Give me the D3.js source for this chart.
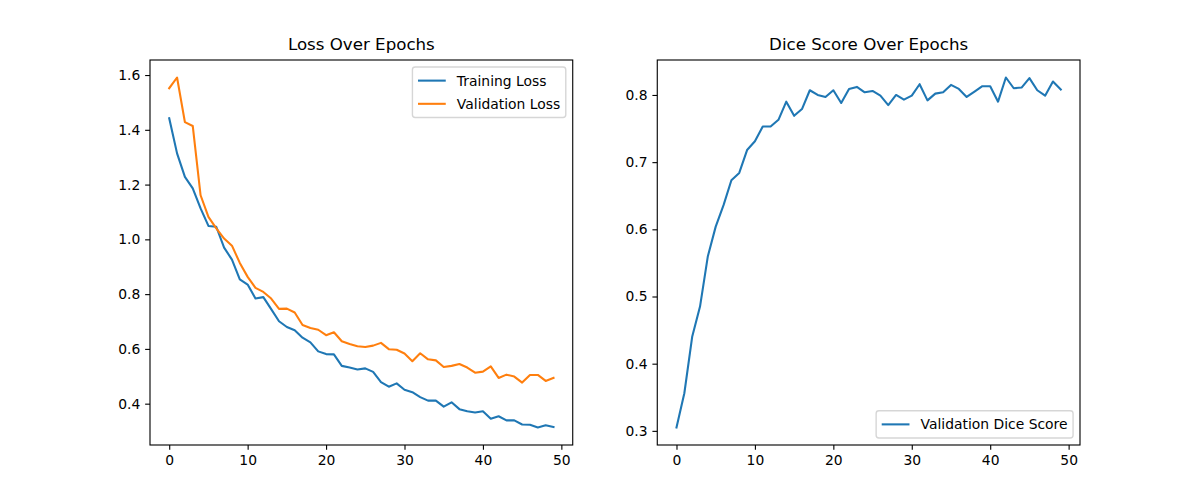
<!DOCTYPE html>
<html>
<head>
<meta charset="utf-8">
<script src="https://cdn.jsdelivr.net/npm/d3@7"></script>
<style>
  html, body { margin: 0; padding: 0; background: #fff; }
  svg { display: block; font-family: "DejaVu Sans", sans-serif; }
</style>
</head>
<body>
<svg id="chart" width="1200" height="500"></svg>
<script>
const epochs = d3.range(50);
const trainingLoss = [1.442, 1.314, 1.228, 1.186, 1.113, 1.049, 1.046, 0.970, 0.926, 0.854,
  0.835, 0.784, 0.789, 0.745, 0.701, 0.680, 0.668, 0.641, 0.624, 0.591,
  0.581, 0.580, 0.538, 0.532, 0.525, 0.529, 0.516, 0.479, 0.462, 0.474,
  0.451, 0.442, 0.424, 0.411, 0.411, 0.389, 0.405, 0.380, 0.372, 0.368,
  0.372, 0.345, 0.354, 0.339, 0.339, 0.324, 0.323, 0.313, 0.321, 0.315];
const validationLoss = [1.552, 1.591, 1.428, 1.414, 1.161, 1.082, 1.040, 1.003, 0.977, 0.914,
  0.863, 0.823, 0.808, 0.784, 0.746, 0.747, 0.733, 0.687, 0.676, 0.670,
  0.650, 0.661, 0.628, 0.618, 0.610, 0.607, 0.612, 0.622, 0.599, 0.597,
  0.583, 0.555, 0.584, 0.562, 0.558, 0.534, 0.538, 0.545, 0.532, 0.513,
  0.517, 0.536, 0.494, 0.506, 0.499, 0.477, 0.505, 0.505, 0.483, 0.494];
const diceScore = [0.305, 0.356, 0.440, 0.485, 0.560, 0.604, 0.636, 0.673, 0.684, 0.718,
  0.731, 0.753, 0.753, 0.763, 0.790, 0.769, 0.779, 0.807, 0.800, 0.797,
  0.807, 0.788, 0.809, 0.812, 0.804, 0.806, 0.799, 0.785, 0.800, 0.793,
  0.799, 0.816, 0.792, 0.802, 0.804, 0.815, 0.809, 0.797, 0.805, 0.813,
  0.813, 0.790, 0.826, 0.810, 0.811, 0.825, 0.807, 0.799, 0.820, 0.808];
const epochTicks = [0, 10, 20, 30, 40, 50];
const lossTicks = [0.4, 0.6, 0.8, 1.0, 1.2, 1.4, 1.6];
const diceTicks = [0.3, 0.4, 0.5, 0.6, 0.7, 0.8];

const svg = d3.select("#chart");
const pt = 100 / 72;
const axTop = 60, axBottom = 445;
const axW = 930 / 2.2;
const panels = [
  { left: 150, title: "Loss Over Epochs", ticks: lossTicks,
    series: [
      { name: "Training Loss", values: trainingLoss, color: "#1f77b4" },
      { name: "Validation Loss", values: validationLoss, color: "#ff7f0e" }
    ], legend: "upper" },
  { left: 150 + axW * 1.2, title: "Dice Score Over Epochs", ticks: diceTicks,
    series: [
      { name: "Validation Dice Score", values: diceScore, color: "#1f77b4" }
    ], legend: "lower" }
];

function pad(ext) {
  const r = ext[1] - ext[0];
  return [ext[0] - 0.05 * r, ext[1] + 0.05 * r];
}

panels.forEach(p => {
  const g = svg.append("g");
  const xExt = pad(d3.extent(epochs));
  const allV = p.series.flatMap(s => s.values);
  const yExt = pad(d3.extent(allV));
  const x = d3.scaleLinear().domain(xExt).range([p.left, p.left + axW]);
  const y = d3.scaleLinear().domain(yExt).range([axBottom, axTop]);

  const line = d3.line().x((d, i) => x(epochs[i])).y(d => y(d));
  p.series.forEach(s => {
    g.append("path").datum(s.values)
      .attr("d", line).attr("fill", "none")
      .attr("stroke", s.color).attr("stroke-width", 1.5 * pt)
      .attr("stroke-linejoin", "round").attr("stroke-linecap", "square");
  });

  const xAxis = d3.axisBottom(x).tickValues(epochTicks).tickFormat(d3.format("d"))
    .tickSizeInner(3.5 * pt).tickSizeOuter(0).tickPadding(3.5 * pt);
  const yAxis = d3.axisLeft(y).tickValues(p.ticks).tickFormat(d3.format(".1f"))
    .tickSizeInner(3.5 * pt).tickSizeOuter(0).tickPadding(3.5 * pt);
  const gx = g.append("g").attr("transform", `translate(0,${axBottom})`).call(xAxis);
  const gy = g.append("g").attr("transform", `translate(${p.left},0)`).call(yAxis);
  [gx, gy].forEach(a => {
    a.select(".domain").remove();
    a.selectAll("line").attr("stroke", "#000").attr("stroke-width", 0.8 * pt);
    a.selectAll("text").attr("font-size", 10 * pt).attr("fill", "#000")
      .attr("font-family", "DejaVu Sans, sans-serif");
  });

  g.append("rect").attr("x", p.left).attr("y", axTop)
    .attr("width", axW).attr("height", axBottom - axTop)
    .attr("fill", "none").attr("stroke", "#000").attr("stroke-width", 0.8 * pt);

  g.append("text").attr("x", p.left + axW / 2).attr("y", axTop - 6 * pt - 2)
    .attr("text-anchor", "middle").attr("font-size", 12 * pt).attr("fill", "#000")
    .text(p.title);

  const fs = 10 * pt;
  const rowH = fs * 1.17;
  const n = p.series.length;
  const tmp = g.append("g");
  const widths = p.series.map(s => {
    const t = tmp.append("text").attr("font-size", fs).text(s.name);
    return t.node().getComputedTextLength();
  });
  tmp.remove();
  const textW = d3.max(widths);
  const bp = 0.4 * fs, hl = 2.0 * fs, htp = 0.8 * fs, ls = 0.5 * fs, bap = 0.5 * fs;
  const boxW = bp * 2 + hl + htp + textW;
  const boxH = bp * 2 + n * rowH + (n - 1) * ls;
  const bx = p.left + axW - bap - boxW;
  const by = p.legend === "upper" ? axTop + bap : axBottom - bap - boxH;
  const lg = g.append("g");
  lg.append("rect").attr("x", bx).attr("y", by).attr("width", boxW).attr("height", boxH)
    .attr("rx", 0.2 * fs).attr("fill", "#fff").attr("fill-opacity", 0.8)
    .attr("stroke", "#cccccc").attr("stroke-opacity", 0.8).attr("stroke-width", 1 * pt);
  p.series.forEach((s, i) => {
    const cy = by + bp + i * (rowH + ls) + rowH / 2;
    lg.append("line").attr("x1", bx + bp).attr("x2", bx + bp + hl)
      .attr("y1", cy).attr("y2", cy)
      .attr("stroke", s.color).attr("stroke-width", 1.5 * pt);
    lg.append("text").attr("x", bx + bp + hl + htp).attr("y", cy)
      .attr("dy", "0.36em").attr("font-size", fs).attr("fill", "#000").text(s.name);
  });
});
</script>
</body>
</html>
